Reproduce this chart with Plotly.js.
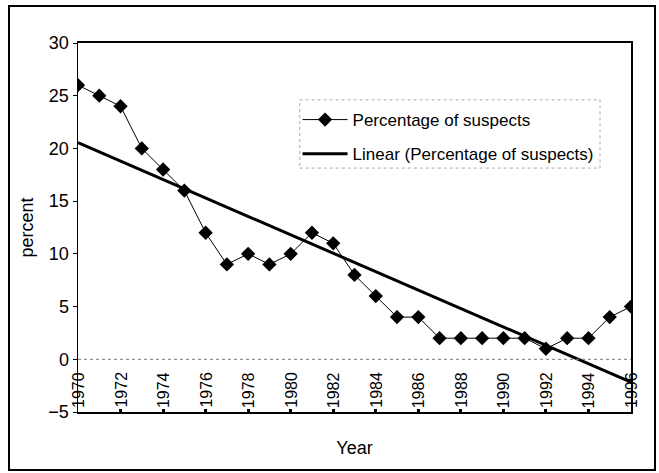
<!DOCTYPE html>
<html>
<head>
<meta charset="utf-8">
<script src="https://cdn.plot.ly/plotly-3.0.1.min.js"></script>
<style>
html,body{margin:0;padding:0;background:#fff;}
#wrap{position:relative;width:659px;height:473px;}
#chart{position:absolute;left:0;top:0;width:659px;height:473px;}
#frame{position:absolute;left:8px;top:5px;width:644px;height:462px;border:2px solid #000;pointer-events:none;}
</style>
</head>
<body>
<div id="wrap"><div id="chart"></div><div id="frame"></div></div>
<script>
const years = [1970,1971,1972,1973,1974,1975,1976,1977,1978,1979,1980,1981,1982,1983,1984,1985,1986,1987,1988,1989,1990,1991,1992,1993,1994,1995,1996];
const percentSuspects = [26,25,24,20,18,16,12,9,10,9,10,12,11,8,6,4,4,2,2,2,2,2,1,2,2,4,5];
const yTicks = [-5,0,5,10,15,20,25,30];
const xTicks = [1970,1972,1974,1976,1978,1980,1982,1984,1986,1988,1990,1992,1994,1996];
const seriesName = "Percentage of suspects";
const trendName = "Linear (Percentage of suspects)";

// least-squares linear trend computed from the data
const n = years.length;
const mx = years.reduce((a,b)=>a+b,0)/n;
const my = percentSuspects.reduce((a,b)=>a+b,0)/n;
let sxy=0, sxx=0;
for (let i=0;i<n;i++){ sxy += (years[i]-mx)*(percentSuspects[i]-my); sxx += (years[i]-mx)**2; }
const slope = sxy/sxx, icpt = my - slope*mx;
const trendX = [years[0], years[n-1]];
const trendY = trendX.map(x => icpt + slope*x);

const font = "Liberation Sans, Arial, sans-serif";

const data = [
  {x: years, y: percentSuspects, type:'scatter', mode:'lines+markers', name: seriesName,
   legendgroup:'a', line:{color:'#000', width:1}, marker:{symbol:'diamond', size:11, color:'#000'}},
  {x: trendX, y: trendY, type:'scatter', mode:'lines', name: trendName,
   legendgroup:'b', line:{color:'#000', width:3}}
];

const tickAnnots = xTicks.map(v => ({
  x: v, xref:'x', y: -5, yref:'y', text: String(v), textangle:-90, showarrow:false,
  xanchor:'center', yanchor:'bottom', yshift:2, font:{size:16, family:font, color:'#000'}
}));

const layout = {
  width:659, height:473,
  margin:{l:78, r:28, t:43, b:61, pad:0},
  paper_bgcolor:'#fff', plot_bgcolor:'#fff',
  font:{family:font, color:'#000', size:16},
  showlegend:true,
  legend:{x:0.397, y:0.84, xanchor:'left', yanchor:'top', bgcolor:'rgba(0,0,0,0)',
          borderwidth:0, font:{size:17, family:font}, itemwidth:45, tracegroupgap:9},
  xaxis:{range:[1970,1996], tickvals:xTicks, showticklabels:false,
         showgrid:false, zeroline:false, showline:true,
         linecolor:'#000', linewidth:2, mirror:true, ticks:'inside', ticklen:3, tickwidth:3,
         tickcolor:'#000',
         title:{text:'Year', font:{size:18, family:font}, standoff:28}},
  yaxis:{range:[-5,30], tickvals:yTicks, showgrid:false, zeroline:false, showline:true,
         linecolor:'#000', linewidth:1.5, mirror:true, ticks:'outside', ticklen:4,
         tickcolor:'#000', tickfont:{size:18, family:font},
         title:{text:'percent', font:{size:18, family:font}, standoff:10}},
  annotations: tickAnnots,
  shapes:[
    {type:'line', xref:'paper', x0:0, x1:1, yref:'y', y0:0, y1:0,
     line:{color:'#777', width:1, dash:'dot'}},
    {type:'rect', xref:'paper', yref:'paper', x0:0.401, x1:0.944, y0:0.661, y1:0.846,
     line:{color:'#aaa', width:1, dash:'dot'}}
  ]
};

Plotly.newPlot('chart', data, layout, {displayModeBar:false, staticPlot:true});
</script>
</body>
</html>
